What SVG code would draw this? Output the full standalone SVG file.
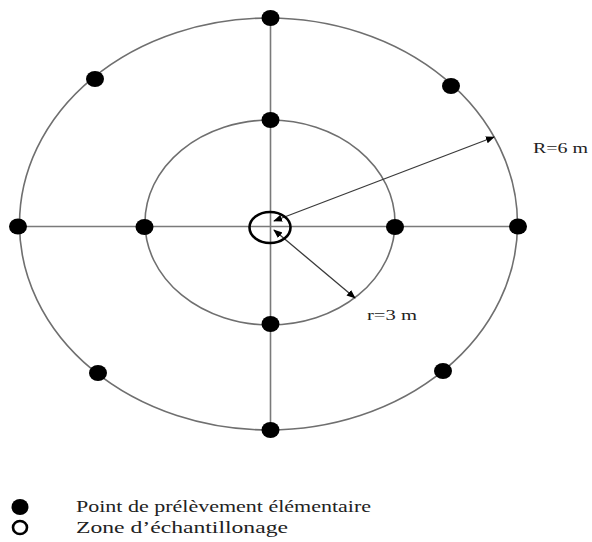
<svg xmlns="http://www.w3.org/2000/svg" width="592" height="542" viewBox="0 0 592 542">
<style>
.ring{fill:none;stroke:#6f6f6f;stroke-width:1.6}
.axis{stroke:#7a7a7a;stroke-width:1.6}
.pt{fill:#000}
.arr{stroke:#3a3a3a;stroke-width:1.3;fill:none;marker-start:url(#ah);marker-end:url(#ah)}
.lbl{font-family:"Liberation Serif","Times New Roman",serif;fill:#222}
</style>
<defs>
<marker id="ah" viewBox="0 0 10 10" refX="9" refY="5" markerWidth="9" markerHeight="9" markerUnits="userSpaceOnUse" orient="auto-start-reverse">
<path d="M0,1 L10,5 L0,9 Z" fill="#000"/>
</marker>
</defs>
<rect width="592" height="542" fill="#fff"/>
<g id="outer-circle"><ellipse class="ring" cx="268.5" cy="224" rx="249" ry="206"/></g>
<g id="inner-circle"><ellipse class="ring" cx="270" cy="222.5" rx="125" ry="102.5"/></g>
<g id="connectors">
<line class="axis" x1="18" y1="226.5" x2="518" y2="226.5"/>
<line class="axis" x1="270.5" y1="18" x2="270.5" y2="430"/>
<line class="arr" x1="274" y1="221" x2="494" y2="137"/>
<line class="arr" x1="274" y1="230" x2="355" y2="298"/>
</g>
<g id="zone"><ellipse cx="270" cy="227.5" rx="20.5" ry="15.5" fill="none" stroke="#000" stroke-width="2.6"/></g>
<g id="points">
<ellipse class="pt" cx="270.5" cy="18" rx="9" ry="8"/>
<ellipse class="pt" cx="270.5" cy="430" rx="9" ry="8"/>
<ellipse class="pt" cx="18" cy="226.5" rx="9" ry="8"/>
<ellipse class="pt" cx="518" cy="226.5" rx="9" ry="8"/>
<ellipse class="pt" cx="270.5" cy="120" rx="9" ry="8"/>
<ellipse class="pt" cx="270.5" cy="324" rx="9" ry="8"/>
<ellipse class="pt" cx="144.5" cy="227" rx="9" ry="8"/>
<ellipse class="pt" cx="395" cy="227" rx="9" ry="8"/>
<ellipse class="pt" cx="95" cy="79" rx="9" ry="8"/>
<ellipse class="pt" cx="451" cy="86" rx="9" ry="8"/>
<ellipse class="pt" cx="98" cy="373" rx="9" ry="8"/>
<ellipse class="pt" cx="443" cy="371" rx="9" ry="8"/>
</g>
<g id="labels">
<text class="lbl" x="533" y="153" font-size="14" textLength="55" lengthAdjust="spacingAndGlyphs">R=6 m</text>
<text class="lbl" x="367" y="320" font-size="14" textLength="50" lengthAdjust="spacingAndGlyphs">r=3 m</text>
</g>
<g id="legend">
<ellipse cx="20" cy="507" rx="8.5" ry="8" fill="#000"/>
<ellipse cx="20" cy="527.5" rx="7" ry="6.5" fill="none" stroke="#000" stroke-width="2.6"/>
<text class="lbl" x="76" y="512" font-size="16" textLength="295" lengthAdjust="spacingAndGlyphs">Point de prélèvement élémentaire</text>
<text class="lbl" x="76" y="533" font-size="16" textLength="212" lengthAdjust="spacingAndGlyphs">Zone d’échantillonage</text>
</g>
</svg>
